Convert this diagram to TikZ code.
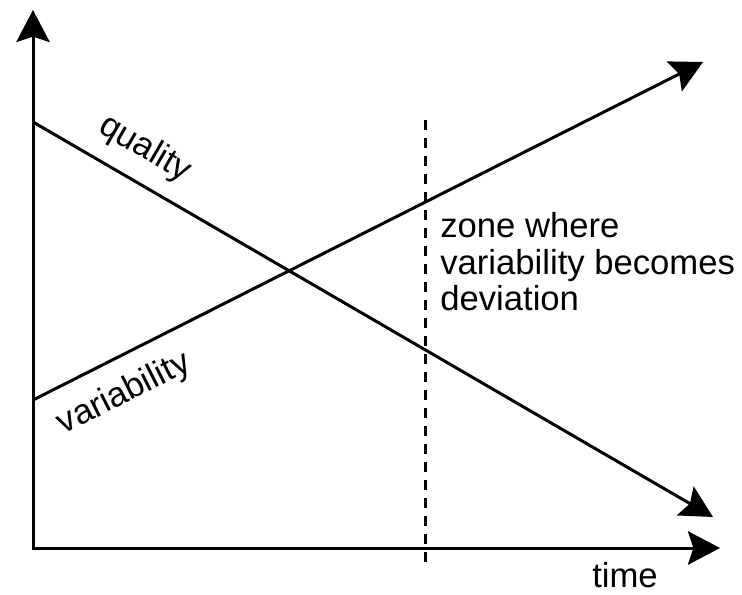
\documentclass[tikz,border=0pt]{standalone}
\usepackage{fontspec}
\setmainfont{Liberation Sans}
\usetikzlibrary{arrows.meta}

\begin{document}
\begin{tikzpicture}[x=0.75pt, y=-0.75pt,
    every node/.style={font=\fontsize{26}{27.5}\selectfont, inner sep=0pt},
    line/.style={line width=2.25pt},
    tip/.style={-{Stealth[length=24pt,width=25pt,inset=4pt]}}]
  \useasboundingbox (0,0) rectangle (742,595);
  % axes
  \coordinate (origin) at (33,548);
  \coordinate (ytop) at (33,10);
  \coordinate (xend) at (720,548);
  \draw[line, {Stealth[length=24pt,width=25pt,inset=4pt]}-{Stealth[length=24pt,width=25pt,inset=4pt]}]
    (ytop) -- (origin) -- (xend);
  % the two trends
  \coordinate (qstart) at (33,122);
  \coordinate (qend) at (713,517);
  \coordinate (vstart) at (33,400);
  \coordinate (vend) at (703,62);
  \draw[line,tip] (qstart) -- (qend);
  \draw[line,tip] (vstart) -- (vend);
  % limit of the zone
  \coordinate (ztop) at (425,120);
  \coordinate (zbot) at (425,567);
  \draw[line, dash pattern=on 7.5pt off 6pt] (ztop) -- (zbot);
  % labels
  \node[rotate=-30.2] (qlabel) at (145,149) {quality};
  \node[rotate=26.8] (vlabel) at (124,394) {variability};
  \node[anchor=north west, align=left] (zone) at (440,212)
    {zone where\\variability becomes\\deviation};
  \node[anchor=base west] (time) at (592,587) {time};
\end{tikzpicture}
\end{document}
